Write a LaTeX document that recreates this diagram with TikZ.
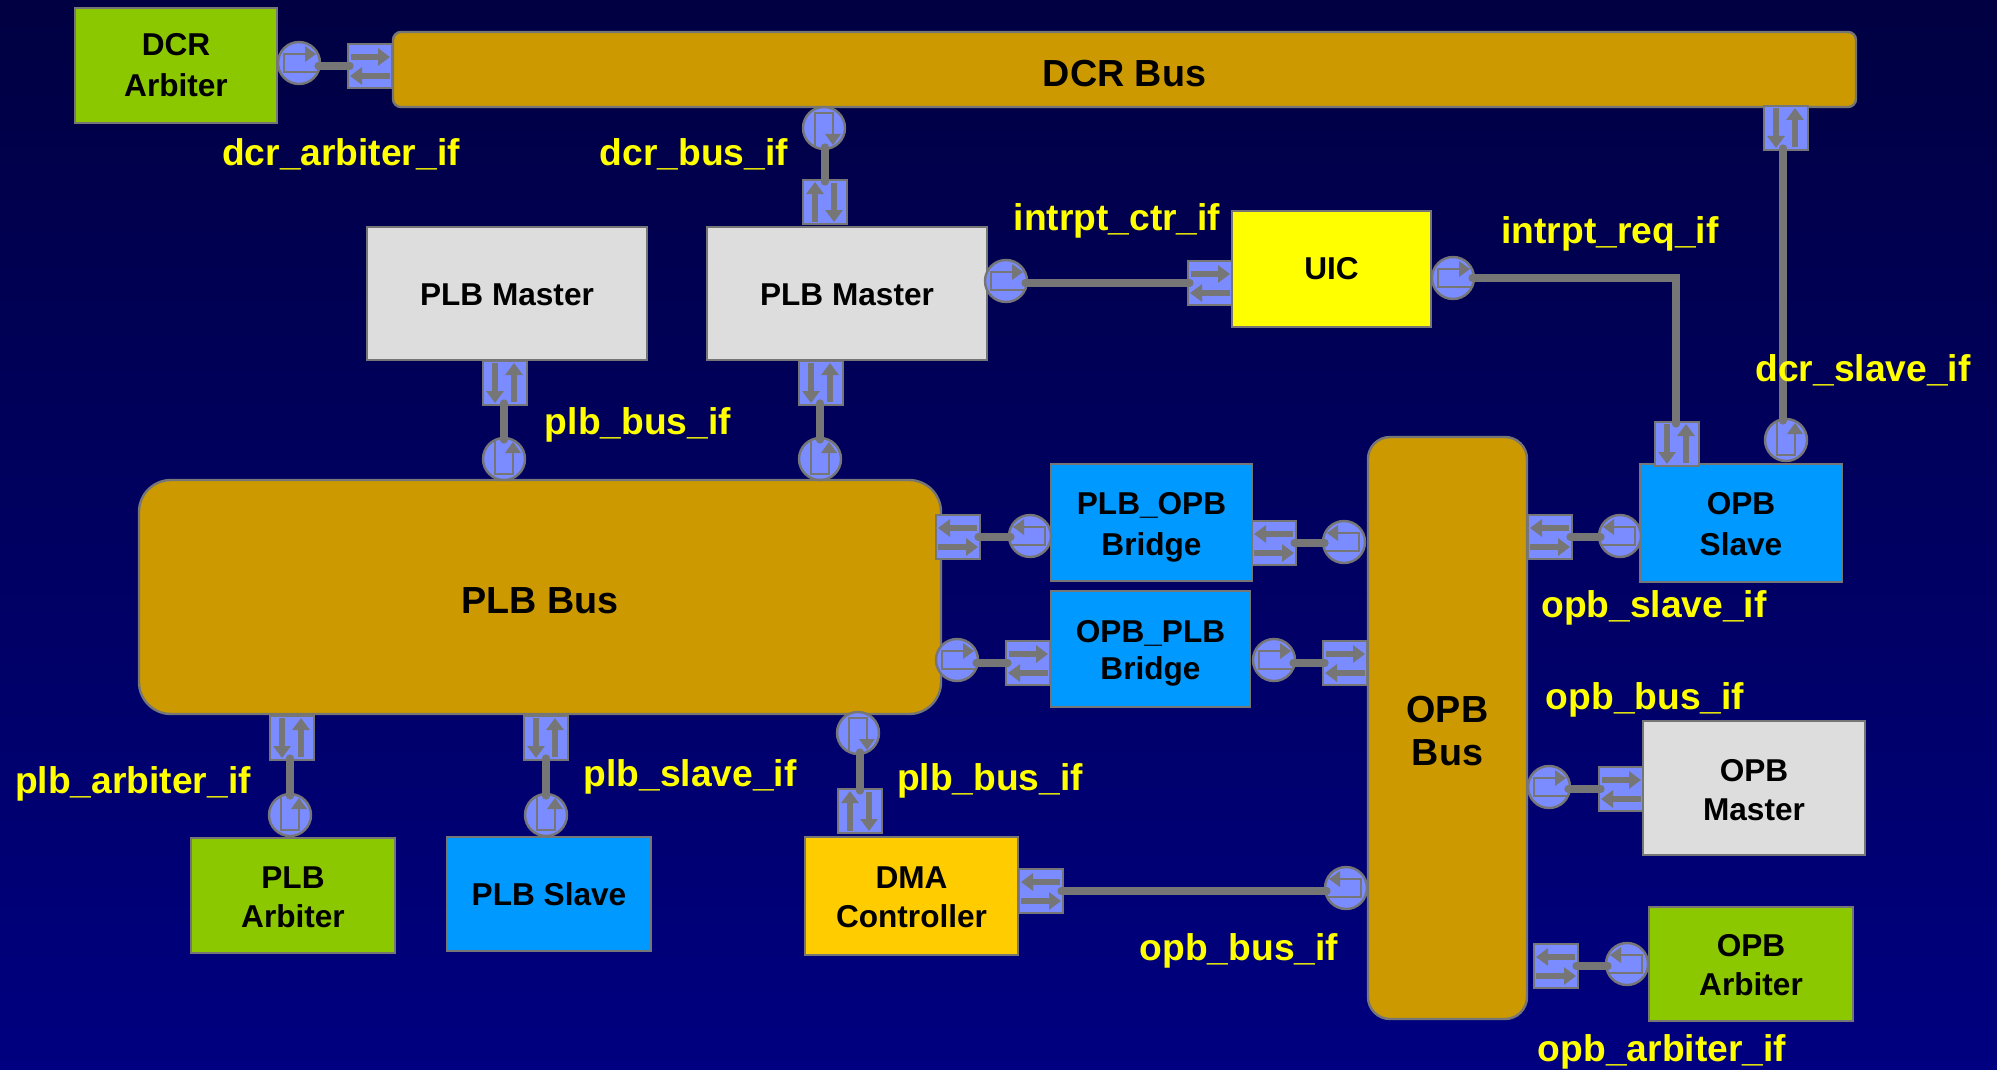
\documentclass[tikz,border=0pt]{standalone}
\usepackage{fontspec}
\setmainfont{Liberation Sans}
\usetikzlibrary{arrows.meta,positioning}

\definecolor{edgegray}{RGB}{118,118,118}
\definecolor{portblue}{RGB}{122,140,255}
\definecolor{busgold}{RGB}{204,153,0}
\definecolor{arbgreen}{RGB}{140,200,0}
\definecolor{slaveblue}{RGB}{0,153,255}
\definecolor{mastergray}{RGB}{221,221,221}
\definecolor{dmagold}{RGB}{255,204,0}
\definecolor{sigyellow}{RGB}{255,255,0}
\definecolor{skytop}{RGB}{0,0,66}
\definecolor{skybottom}{RGB}{0,0,128}

\tikzset{
  blockbox/.style={draw=edgegray, line width=1.2pt, inner sep=0pt, outer sep=0pt, align=center,
    font=\fontsize{15.8}{19.5}\selectfont\bfseries},
  busbox/.style={blockbox, fill=busgold, font=\fontsize{18.85}{21.5}\selectfont\bfseries},
  lastline/.style={text height=#1, text depth=0pt},
  portc/.style={circle, draw=edgegray, fill=portblue, line width=1.2pt, minimum size=21pt, inner sep=0pt, outer sep=0pt},
  ports/.style={rectangle, draw=edgegray, fill=portblue, line width=1.2pt, minimum size=22pt, inner sep=0pt, outer sep=0pt},
  link/.style={draw=edgegray, line width=3.6pt, line cap=round, shorten <=-1pt, shorten >=-1pt},
  iflabel/.style={text=sigyellow, inner sep=0pt, text height=14pt, text depth=4pt, yshift=-1.2pt,
    font=\fontsize{18.6}{20}\selectfont\bfseries},
  dirR/.style={}, dirL/.style={xscale=-1}, dirD/.style={rotate=-90}, dirU/.style={yscale=-1,rotate=-90},
  portcirc/.pic={
    \draw[edgegray, line width=1.2pt] (19,9) -- (-15,9) -- (-15,-9) -- (8,-9);
    \fill[edgegray] (17,-9) -- (6,-17) -- (6,-1) -- cycle;
  },
  portsq/.pic={
    \draw[edgegray, line width=2.8pt, -{Triangle[length=6pt,width=8.5pt]}] (-19,-9) -- (20,-9);
    \draw[edgegray, line width=2.8pt, -{Triangle[length=6pt,width=8.5pt]}] (20,10) -- (-20,10);
  }
}

\begin{document}
\begin{tikzpicture}[x=0.5pt, y=-0.5pt]
  \useasboundingbox (0,0) rectangle (1997,1070);
  \shade[top color=skytop, bottom color=skybottom] (0,0) rectangle (1997,1070);

  % busses
  \node[busbox, lastline=16.6pt, rounded corners=4pt, minimum width=731.5pt, minimum height=37.5pt] (dcrbus) at (1124.5,69.5) {DCR Bus};
  \node[busbox, lastline=16.5pt, rounded corners=16pt, minimum width=401pt, minimum height=117pt] (plbbus) at (540,597) {PLB Bus};
  \node[busbox, lastline=37pt, rounded corners=11pt, minimum width=79.5pt, minimum height=291pt] (opbbus) at (1447.5,728) {OPB\\Bus};

  % blocks
  \node[blockbox, lastline=31.1pt, fill=arbgreen, minimum width=101pt, minimum height=57.5pt] (dcrarb) at (176,65.5) {DCR\\[1pt]Arbiter};
  \node[blockbox, lastline=12pt, fill=mastergray, minimum width=140pt, minimum height=66.5pt] (plbmst1) at (507,293.5) {PLB Master};
  \node[blockbox, lastline=12pt, fill=mastergray, minimum width=140pt, minimum height=66.5pt] (plbmst2) at (847,293.5) {PLB Master};
  \node[blockbox, fill=sigyellow, minimum width=99.5pt, minimum height=58pt] (uic) at (1331.5,269) {UIC};
  \node[blockbox, lastline=32.8pt, fill=slaveblue, minimum width=100.5pt, minimum height=58.5pt] (plbopb) at (1151.5,522.5) {PLB\_OPB\\[1pt]Bridge};
  \node[blockbox, lastline=30.3pt, fill=slaveblue, minimum width=99.5pt, minimum height=58pt] (opbplb) at (1150.5,649) {OPB\_PLB\\[-1pt]Bridge};
  \node[blockbox, lastline=32.1pt, fill=slaveblue, minimum width=101pt, minimum height=59pt] (opbslv) at (1741,523) {OPB\\[1pt]Slave};
  \node[blockbox, lastline=32pt, fill=mastergray, minimum width=111pt, minimum height=67pt] (opbmst) at (1754,788) {OPB\\Master};
  \node[blockbox, lastline=31.8pt, fill=arbgreen, minimum width=102pt, minimum height=57pt] (opbarb) at (1751,964) {OPB\\Arbiter};
  \node[blockbox, lastline=31.5pt, fill=arbgreen, minimum width=102pt, minimum height=57.5pt] (plbarb) at (293,895.5) {PLB\\Arbiter};
  \node[blockbox, fill=slaveblue, minimum width=102pt, minimum height=57pt] (plbslv) at (549,894) {PLB Slave};
  \node[blockbox, lastline=31pt, fill=dmagold, minimum width=106.5pt, minimum height=59pt] (dma) at (911.5,896) {DMA\\Controller};

  % ports
  \foreach \nm/\x/\y/\dr in {cdcrarb/299/63/dirR, cdcrbus/824/128/dirD, cintctr/1006/281/dirR, cintreq/1453/278/dirR,
      cdcrslv/1786/440/dirU, cmst1/504/459/dirU, cmst2/820/459/dirU, cbrgA/1030/536/dirL, cbrgB/1344/542/dirL,
      cbrgC/957/660/dirR, cbrgD/1274/660/dirR, copbslv/1620/536/dirL, copbmst/1549/787/dirR, copbarb/1627/964/dirL,
      cplbarb/290/815/dirU, cplbslv/546/815/dirU, cdmaplb/858/733/dirD, cdmaopb/1346/888/dirL} {
    \node[portc] (\nm) at (\x,\y) {};
    \pic[\dr] at (\nm.center) {portcirc};
  }
  \foreach \nm/\x/\y/\dr in {sdcrarb/370/66/dirR, sdcrbus/825/202/dirD, sintctr/1210/283/dirR, sintreq/1677/444/dirU,
      sdcrslv/1786/128/dirU, smst1/505/383/dirU, smst2/821/383/dirU, sbrgA/958/537/dirL, sbrgB/1274/543/dirL,
      sbrgC/1028/663/dirR, sbrgD/1345/663/dirR, sopbslv/1550/537/dirL, sopbmst/1621/789/dirR, sopbarb/1556/966/dirL,
      splbarb/292/738/dirU, splbslv/546/738/dirU, sdmaplb/860/811/dirD, sdmaopb/1041/891/dirL} {
    \node[ports] (\nm) at (\x,\y) {};
    \pic[\dr] at (\nm.center) {portsq};
  }

  % connectors
  \foreach \cc/\ss in {cdcrarb/sdcrarb, cintctr/sintctr, cbrgC/sbrgC, cbrgD/sbrgD, copbmst/sopbmst}
    \draw[link] (\cc.east |- \ss.west) -- (\ss.west);
  \foreach \cc/\ss in {cbrgA/sbrgA, cbrgB/sbrgB, copbslv/sopbslv, copbarb/sopbarb, cdmaopb/sdmaopb}
    \draw[link] (\cc.west |- \ss.east) -- (\ss.east);
  \foreach \cc/\ss in {cdcrbus/sdcrbus, cdmaplb/sdmaplb}
    \draw[link] (\cc.south -| \ss.north) -- (\ss.north);
  \foreach \cc/\ss in {cmst1/smst1, cmst2/smst2, cplbarb/splbarb, cplbslv/splbslv}
    \draw[link] (\cc.north) -- (\cc.north |- \ss.south);
  \draw[link] ([xshift=-1.5pt]cdcrslv.north) -- ([xshift=-1.5pt]cdcrslv.north |- sdcrslv.south);
  \draw[link] (cintreq.east) -| ([xshift=-0.5pt]sintreq.north);

  % interface names
  \node[iflabel] (ldcrarb) at (341,153) {dcr\_arbiter\_if};
  \node[iflabel] (ldcrbus) at (694,153) {dcr\_bus\_if};
  \node[iflabel] (lintctr) at (1117,218) {intrpt\_ctr\_if};
  \node[iflabel] (lintreq) at (1610,231) {intrpt\_req\_if};
  \node[iflabel] (ldcrslv) at (1863,369) {dcr\_slave\_if};
  \node[iflabel] (lplbbusA) at (638,422) {plb\_bus\_if};
  \node[iflabel] (lopbslv) at (1654,605) {opb\_slave\_if};
  \node[iflabel] (lopbbusA) at (1645,697) {opb\_bus\_if};
  \node[iflabel] (lplbarb) at (133,781) {plb\_arbiter\_if};
  \node[iflabel] (lplbslv) at (690,774) {plb\_slave\_if};
  \node[iflabel] (lplbbusB) at (990,778) {plb\_bus\_if};
  \node[iflabel] (lopbbusB) at (1239,948) {opb\_bus\_if};
  \node[iflabel] (lopbarb) at (1662,1049) {opb\_arbiter\_if};
\end{tikzpicture}
\end{document}
